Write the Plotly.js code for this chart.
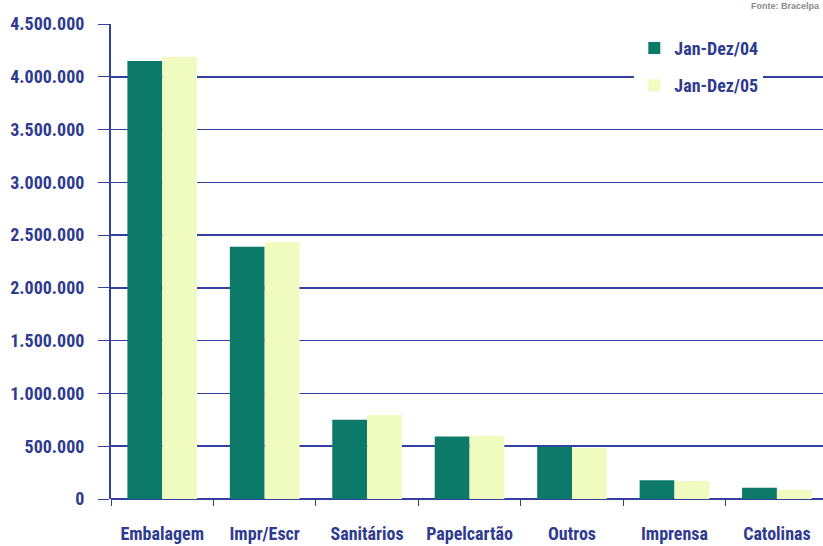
<!DOCTYPE html>
<html>
<head>
<meta charset="utf-8">
<script src="https://cdn.plot.ly/plotly-3.0.1.min.js"></script>
<style>html,body{margin:0;padding:0;background:#fff;}#chart{width:823px;height:546px;}</style>
</head>
<body>
<div id="chart"></div>
<script>
const categories = ['Embalagem', 'Impr/Escr', 'Sanitários', 'Papelcartão', 'Outros', 'Imprensa', 'Catolinas'];
const series04 = [4150000, 2390000, 750000, 592000, 496000, 177000, 107000];
const series05 = [4190000, 2435000, 796000, 600000, 482000, 170000, 88000];
const seriesNames = ['Jan-Dez/04', 'Jan-Dez/05'];
const yTicks = [0, 500000, 1000000, 1500000, 2000000, 2500000, 3000000, 3500000, 4000000, 4500000];

const textColor = '#2f3b8f';
const fontFam = '"Liberation Sans Narrow", "Arial Narrow", "Roboto Condensed", Roboto, sans-serif';

const traces = [
  {type: 'bar', x: categories, y: series04, name: seriesNames[0], marker: {color: '#0d7a69'}, legendgroup: 'a'},
  {type: 'bar', x: categories, y: series05, name: seriesNames[1], marker: {color: '#effbbf'}, legendgroup: 'b'}
];

const layout = {
  width: 823, height: 546,
  margin: {l: 111, r: 0, t: 24, b: 47, pad: 0},
  paper_bgcolor: '#ffffff', plot_bgcolor: '#ffffff',
  separators: ',.',
  barmode: 'group', bargap: 0.32, bargroupgap: 0,
  font: {family: fontFam, color: textColor, size: 18, weight: 'bold'},
  xaxis: {
    range: [-0.5, 6.45], showgrid: false, zeroline: false,
    showline: false, ticks: 'outside', tickson: 'boundaries', ticklen: 6, tickcolor: textColor,
    tickfont: {family: fontFam, size: 18, color: textColor, weight: 'bold'},
    ticklabelstandoff: 22
  },
  yaxis: {
    range: [0, 4500000], tickvals: yTicks, tickformat: ',d',
    showgrid: true, gridcolor: '#3340a0', gridwidth: 1.5,
    zeroline: true, zerolinecolor: '#3340a0', zerolinewidth: 2,
    showline: true, linecolor: '#3340a0', linewidth: 2,
    ticks: 'outside', ticklen: 11, tickcolor: '#3340a0',
    tickfont: {family: fontFam, size: 18, color: textColor, weight: 'bold'},
    ticklabelstandoff: 10
  },
  legend: {
    x: 0.735, y: 0.988, xanchor: 'left', yanchor: 'top',
    bgcolor: '#ffffff', borderwidth: 0,
    font: {family: fontFam, size: 18, color: textColor, weight: 'bold'},
    traceorder: 'grouped', tracegroupgap: 11, itemwidth: 30
  },
  annotations: [{
    text: 'Fonte: Bracelpa', xref: 'paper', yref: 'paper', x: 0.998, y: 1, xanchor: 'right', yanchor: 'bottom',
    yshift: 11, showarrow: false, font: {family: 'Liberation Sans', size: 9, color: '#8a8a8a'}
  }],
  showlegend: true
};

Plotly.newPlot('chart', traces, layout, {displayModeBar: false, staticPlot: true});
</script>
</body>
</html>
